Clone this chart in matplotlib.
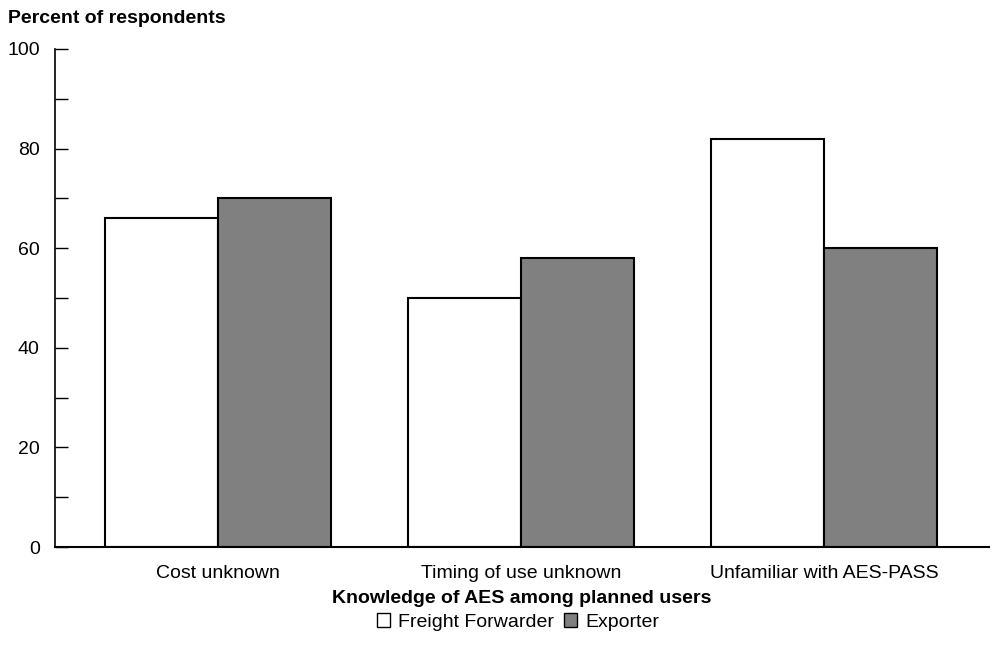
import numpy as np
import matplotlib.pyplot as plt
from matplotlib.ticker import MultipleLocator
from matplotlib.patches import Patch

plt.rcParams['font.family'] = ['Liberation Sans', 'DejaVu Sans']

categories = ["Cost unknown", "Timing of use unknown", "Unfamiliar with AES-PASS"]
freight_forwarder = [66, 50, 82]
exporter = [70, 58, 60]

x = np.arange(len(categories))
w = 0.373

fig = plt.figure(figsize=(9.96, 6.62), dpi=100)
ax = fig.add_axes([0.0552, 0.1737, 0.9378, 0.7523])

ax.bar(x - w / 2, freight_forwarder, w, color='white', edgecolor='black', linewidth=1.5,
       label='Freight Forwarder')
ax.bar(x + w / 2, exporter, w, color='#808080', edgecolor='black', linewidth=1.5,
       label='Exporter')

ax.set_xlim(-0.538, 2.545)
ax.set_ylim(0, 100)
ax.yaxis.set_major_locator(MultipleLocator(20))
ax.yaxis.set_minor_locator(MultipleLocator(10))
ax.tick_params(axis='y', which='both', direction='in', length=9, width=1, labelsize=14, pad=11)
ax.set_xticks(x)
ax.set_xticklabels(categories, fontsize=14)
ax.tick_params(axis='x', length=0, pad=13)
for s in ['top', 'right']:
    ax.spines[s].set_visible(False)
ax.spines['left'].set_linewidth(1.2)
ax.spines['bottom'].set_linewidth(1.5)

ax.set_xlabel("Knowledge of AES among planned users", fontsize=14, fontweight='bold', labelpad=6)
fig.text(0.008, 0.972, "Percent of respondents", fontsize=14, fontweight='bold', va='center', ha='left')

handles = [Patch(facecolor='white', edgecolor='black', linewidth=1),
           Patch(facecolor='#808080', edgecolor='black', linewidth=1)]
fig.legend(handles, ["Freight Forwarder", "Exporter"], loc='center', bbox_to_anchor=(0.52, 0.06),
           ncol=2, frameon=False, fontsize=14, handlelength=0.7, handleheight=0.7,
           handletextpad=0.4, columnspacing=0.5)

plt.savefig("out.png", dpi=100)
